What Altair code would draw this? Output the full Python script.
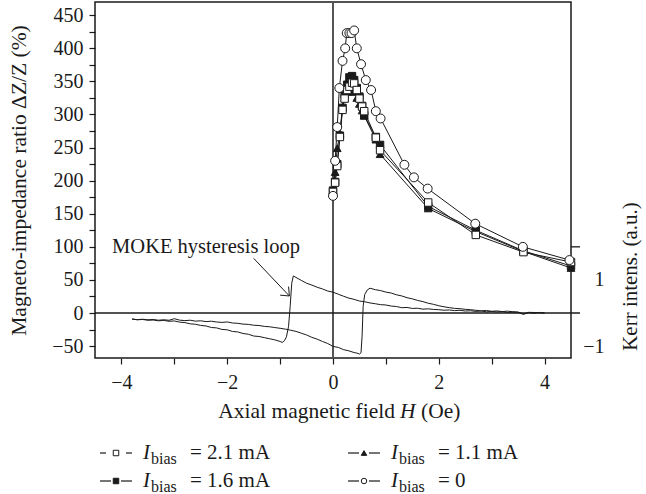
import altair as alt
import pandas as pd

# ---------------- data ----------------
# Magneto-impedance ratio (%) versus axial field H (Oe)
H_bias = [0.0, 0.04, 0.08, 0.13, 0.18, 0.22, 0.27, 0.31, 0.36, 0.40, 0.45, 0.50,
          0.55, 0.59, 0.81, 0.89, 1.80, 2.70, 3.60, 4.50]
mi_21 = [183, 197, 222, 266, 307, 324, 337, 342, 348, 347, 337, 324,
         312, 305, 265, 246, 167, 118, 92, 77]
mi_16 = [185, 198, 225, 268, 310, 330, 345, 356, 358, 352, 340, 327,
         313, 299, 266, 254, 161, 125, 94, 71]
mi_11 = [186, 213, 249, 272, 312, 325, 334, 338, 338, 334, 325, 316,
         306, 298, 262, 240, 158, 123, 93, 68]
H_zero = [0.0, 0.04, 0.08, 0.12, 0.18, 0.23, 0.26, 0.31, 0.35, 0.40, 0.45,
          0.53, 0.62, 0.72, 0.81, 0.90, 1.35, 1.53, 1.79, 2.69, 3.59, 4.47]
mi_0 = [177, 230, 281, 340, 381, 400, 423, 423, 423, 427, 400,
        376, 352, 337, 305, 294, 224, 205, 188, 135, 100, 80]

# MOKE loop, read in units of the left axis (50 % = 1 a.u. Kerr intensity)
moke_up_H = [-3.8, -3.7, -3.6, -3.5, -3.4, -3.3, -3.2, -3.1, -3.0, -2.9, -2.8, -2.7,
             -2.6, -2.5, -2.4, -2.3, -2.2, -2.1, -2.0, -1.9, -1.8, -1.7, -1.6, -1.5,
             -1.4, -1.3, -1.2, -1.1, -1.0, -0.9, -0.8, -0.7, -0.6, -0.5, -0.4, -0.3,
             -0.2, -0.1, 0.0, 0.1, 0.2, 0.3, 0.4, 0.45, 0.5, 0.53, 0.55, 0.57, 0.6,
             0.65, 0.7, 0.8, 0.9, 1.0, 1.1, 1.2, 1.3, 1.4, 1.5, 1.6, 1.7, 1.8, 1.9,
             2.0, 2.1, 2.2, 2.3, 2.4, 2.5, 2.6, 2.7, 2.8, 2.9, 3.0, 3.1, 3.2, 3.3,
             3.4, 3.5, 3.6, 3.7, 3.8, 3.9, 4.0]
moke_up_val = [-9.2, -10.1, -9.4, -10.3, -9.8, -10.9, -10.2, -11.0, -8.6, -10.8, -11.5, -10.9,
               -12.3, -11.8, -13.0, -12.4, -13.6, -14.2, -13.5, -15.1, -15.6, -16.8, -17.2, -18.5,
               -18.9, -20.2, -20.8, -22.0, -23.1, -24.4, -26.0, -27.8, -30.5, -33.2, -36.8, -39.5,
               -43.0, -46.1, -50.5, -52.0, -55.4, -57.2, -59.8, -60.5, -62.0, -60.0, -35.0, 10.0, 28.0,
               35.0, 37.5, 35.2, 33.9, 31.6, 30.2, 27.5, 25.8, 23.1, 21.4, 19.0, 17.2, 14.8, 13.1,
               11.0, 9.4, 8.1, 7.0, 6.5, 5.6, 5.0, 4.1, 3.2, 3.8, 2.6, 3.1, 2.2, 2.8,
               1.9, 1.5, -1.5, 1.0, 0.8, 0.4, 0.0]
moke_down_H = [4.0, 3.9, 3.8, 3.7, 3.6, 3.5, 3.4, 3.3, 3.2, 3.1, 3.0, 2.9, 2.8, 2.7,
               2.6, 2.5, 2.4, 2.3, 2.2, 2.1, 2.0, 1.9, 1.8, 1.7, 1.6, 1.5, 1.4, 1.3,
               1.2, 1.1, 1.0, 0.9, 0.8, 0.7, 0.6, 0.5, 0.4, 0.3, 0.2, 0.1, 0.0, -0.1,
               -0.2, -0.3, -0.4, -0.5, -0.6, -0.7, -0.75, -0.78, -0.81, -0.84, -0.88,
               -0.92, -0.96, -1.0, -1.1, -1.2, -1.3, -1.4, -1.5, -1.6, -1.7, -1.8, -1.9,
               -2.0, -2.1, -2.2, -2.3, -2.4, -2.5, -2.6, -2.7, -2.8, -2.9, -3.0, -3.1,
               -3.2, -3.3, -3.4, -3.5, -3.6, -3.7, -3.8]
moke_down_val = [0.0, 0.9, -0.5, 0.6, -2.0, 0.8, 1.4, 0.9, 2.0, 1.6, 2.3, 1.8, 3.0, 2.4,
                 3.4, 3.0, 4.1, 3.6, 4.6, 4.2, 5.0, 5.4, 6.3, 5.8, 7.2, 6.9, 8.4, 8.0,
                 9.8, 10.5, 12.1, 12.6, 14.0, 15.2, 17.0, 18.1, 20.6, 22.5, 25.3, 28.4, 31.5, 33.2,
                 36.4, 38.9, 42.2, 45.0, 49.3, 53.8, 56.0, 45.0, 10.0, -20.0, -36.0,
                 -42.0, -44.5, -43.0, -40.6, -38.9, -37.2, -35.5, -34.8, -32.1, -31.0, -28.6, -27.9,
                 -25.4, -24.8, -22.5, -21.9, -19.6, -18.8, -17.0, -16.4, -14.5, -13.8, -12.0, -12.5,
                 -11.2, -11.8, -10.6, -10.9, -9.8, -10.2, -9.0]

series_labels = ["2.1 mA", "1.6 mA", "1.1 mA", "0"]

# ---------------- layout / style ----------------
W, HGT = 476, 356
FONT = "Liberation Serif"
INK = "#1a1a1a"
xscale = alt.Scale(domain=[-4.5, 4.5], nice=False, zero=False)
yscale = alt.Scale(domain=[-68, 470], nice=False, zero=False)
kscale = alt.Scale(domain=[-1.36, 9.4], nice=False, zero=False)

xaxis = alt.Axis(values=list(range(-4, 5)),
                 labelExpr="datum.value % 2 == 0 ? datum.label : ''",
                 title=None, grid=False, domain=False, tickSize=6, tickColor=INK,
                 tickWidth=1.2, labelFont=FONT, labelFontSize=20, labelPadding=8,
                 labelColor=INK)
yaxis = alt.Axis(values=list(range(-50, 451, 25)),
                 labelExpr="datum.value % 50 == 0 ? datum.label : ''",
                 title="Magneto-impedance ratio ΔZ/Z (%)", grid=False, domain=False,
                 tickSize=6, tickColor=INK, tickWidth=1.2, labelFont=FONT,
                 labelFontSize=20, labelPadding=6, labelColor=INK,
                 titleFont=FONT, titleFontSize=21.5, titleFontWeight="normal",
                 titleColor=INK, titleX=-76, titleY=178, titleAngle=270,
                 titleBaseline="middle", titleAlign="center")
kaxis = alt.Axis(orient="right", values=[-1, 1], tickSize=0, grid=False, domain=False,
                 labelFont=FONT, labelFontSize=20, labelAlign="right", labelPadding=33,
                 labelColor=INK, title="Kerr intens. (a.u.)", titleFont=FONT,
                 titleFontSize=21, titleFontWeight="normal", titleColor=INK,
                 titleX=59, titleY=274, titleAngle=270, titleBaseline="middle",
                 titleAlign="center")

X = alt.X("H:Q", scale=xscale, axis=xaxis)
Y = alt.Y("v:Q", scale=yscale, axis=yaxis)

# ---------------- tables ----------------
mi_rows = []
for lab, hs, vs in [(series_labels[0], H_bias, mi_21), (series_labels[1], H_bias, mi_16),
                    (series_labels[2], H_bias, mi_11), (series_labels[3], H_zero, mi_0)]:
    for h, v in zip(hs, vs):
        mi_rows.append({"series": lab, "H": h, "v": v})
mi_df = pd.DataFrame(mi_rows)

moke_rows = []
i = 0
for br, hs, vs in [("up", moke_up_H, moke_up_val), ("down", moke_down_H, moke_down_val)]:
    for h, v in zip(hs, vs):
        moke_rows.append({"branch": br, "H": h, "k": v / 50.0, "idx": i})
        i += 1
moke_df = pd.DataFrame(moke_rows)

# ---------------- MI layers ----------------
lines = alt.Chart(mi_df).mark_line(color=INK, strokeWidth=1).encode(
    x=X, y=Y, detail="series:N")

def pts(label, shape, fill, size):
    return alt.Chart(mi_df[mi_df.series == label]).mark_point(
        shape=shape, filled=True, fill=fill, stroke=INK, strokeWidth=1, size=size,
        opacity=1).encode(x=X, y=Y)

p16 = pts("1.6 mA", "square", INK, 55)
p11 = pts("1.1 mA", "triangle-up", INK, 60)
p21 = pts("2.1 mA", "square", "white", 55)
p0 = pts("0", "circle", "white", 80)

zero_df = pd.DataFrame({"v": [0]})
zero_line = alt.Chart(zero_df).mark_rule(color=INK, strokeWidth=1.3).encode(
    x=alt.value(0), x2=alt.value(W + 9), y=Y)
kerr_tick_df = pd.DataFrame({"v": [100]})
kerr_tick = alt.Chart(kerr_tick_df).mark_rule(color=INK, strokeWidth=1.3).encode(
    x=alt.value(W), x2=alt.value(W + 9), y=Y)
vzero_df = pd.DataFrame({"H": [0]})
vzero = alt.Chart(vzero_df).mark_rule(color="#555555", strokeWidth=2).encode(
    x=X, y=alt.value(0), y2=alt.value(HGT))

# annotation text + arrow (data units)
ann_df = pd.DataFrame({"H": [-2.4], "v": [100], "t": ["MOKE hysteresis loop"]})
ann_text = alt.Chart(ann_df).mark_text(font=FONT, fontSize=20.5, color=INK,
                                       baseline="middle").encode(x=X, y=Y, text="t:N")
arrow_df = pd.DataFrame({
    "H": [-1.50, -0.825, -0.825],
    "v": [82.6, 25.7, 25.7],
    "H2": [-0.825, -1.00, -0.84],
    "v2": [25.7, 27.0, 40.0],
})
arrow = alt.Chart(arrow_df).mark_rule(color=INK, strokeWidth=1).encode(
    x=X, y=Y, x2="H2:Q", y2="v2:Q")

# x title with italic H (pixel placement below the plot)
def ptext(txt, x, y, size=20, style="normal", align="left"):
    d = pd.DataFrame({"t": [txt]})
    return alt.Chart(d).mark_text(font=FONT, fontSize=size, fontStyle=style, color=INK,
                                  align=align, baseline="middle").encode(
        x=alt.value(x), y=alt.value(y), text="t:N")

xt1 = ptext("Axial magnetic field", 300, 410, size=21.5, align="right")
xt2 = ptext("H", 305, 410, size=21.5, style="italic")
xt3 = ptext("(Oe)", 326, 410, size=21.5)

# legend (pixel placement below the plot)
leg_specs = [
    # label, col, row, shape, fill, short dashes
    ("2.1 mA", 0, 0, "square", "white", True),
    ("1.6 mA", 0, 1, "square", INK, False),
    ("1.1 mA", 1, 0, "triangle-up", INK, False),
    ("0", 1, 1, "circle", "white", False),
]
leg_layers = []
for lab, col, row, shape, fill, short in leg_specs:
    x0 = 5 + col * 248
    yc = 451 + row * 28
    dash_len = 6 if short else 11
    seg = pd.DataFrame({"a": [x0, x0 + 32 - dash_len], "b": [x0 + dash_len, x0 + 32]})
    leg_layers.append(alt.Chart(seg).mark_rule(color=INK, strokeWidth=1.2).encode(
        x=alt.X("a:Q", scale=None), x2="b:Q", y=alt.value(yc)))
    mk = pd.DataFrame({"a": [x0 + 16]})
    leg_layers.append(alt.Chart(mk).mark_point(shape=shape, filled=True, fill=fill,
                                               stroke=INK, strokeWidth=1, size=30,
                                               opacity=1).encode(
        x=alt.X("a:Q", scale=None), y=alt.value(yc)))
    leg_layers.append(ptext("I", x0 + 43, yc, size=21, style="italic"))
    leg_layers.append(ptext("bias", x0 + 51, yc + 6, size=16))
    leg_layers.append(ptext("= " + lab, x0 + 90, yc, size=21))

mi_group = alt.layer(vzero, zero_line, kerr_tick, lines, p16, p11, p21, p0,
                     ann_text, arrow, xt1, xt2, xt3, *leg_layers)

# ---------------- MOKE layer (right axis) ----------------
moke = alt.Chart(moke_df).mark_line(color=INK, strokeWidth=1).encode(
    x=X, y=alt.Y("k:Q", scale=kscale, axis=kaxis), detail="branch:N",
    order=alt.Order("idx:Q"))

chart = alt.layer(mi_group, moke).resolve_scale(y="independent").properties(
    width=W, height=HGT, autosize="none",
    padding={"left": 95, "top": 2, "right": 75, "bottom": 136},
    background="white",
).configure_view(stroke=INK, strokeWidth=1.5)

chart.save("out.html", embed_options={"renderer": "svg", "actions": False})
